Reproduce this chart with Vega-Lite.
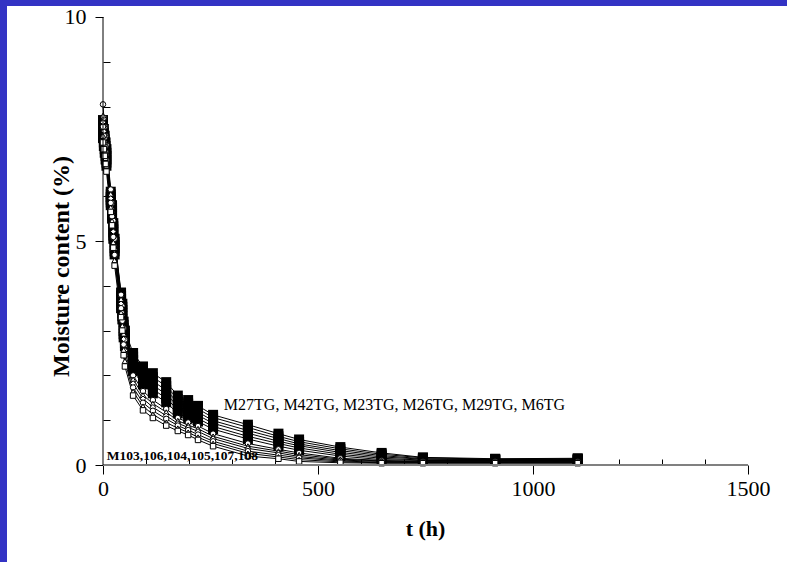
{
"$schema":"https://vega.github.io/schema/vega-lite/v6.json",
"width":780,"height":556,
"autosize":{"type":"none"},
"padding":{"left":7,"top":6,"right":0,"bottom":0},
"background":"#3333c4",
"config":{"font":"Liberation Serif","view":{"fill":"white","stroke":null}},
"resolve":{"axis":{"x":"independent","y":"independent"}},
"layer":[
{"data":{"name":"moisture","values":[
{"s":"M27TG","t":0,"m":7.70},{"s":"M27TG","t":2,"m":7.50},{"s":"M27TG","t":4,"m":7.35},{"s":"M27TG","t":6,"m":7.20},{"s":"M27TG","t":8,"m":7.05},{"s":"M27TG","t":18,"m":6.10},{"s":"M27TG","t":21,"m":5.80},{"s":"M27TG","t":24,"m":5.40},{"s":"M27TG","t":27,"m":5.05},{"s":"M27TG","t":42,"m":3.85},{"s":"M27TG","t":45,"m":3.60},{"s":"M27TG","t":48,"m":3.20},{"s":"M27TG","t":51,"m":3.00},{"s":"M27TG","t":70,"m":2.50},{"s":"M27TG","t":93,"m":2.20},{"s":"M27TG","t":116,"m":2.05},{"s":"M27TG","t":147,"m":1.85},{"s":"M27TG","t":174,"m":1.55},{"s":"M27TG","t":198,"m":1.45},{"s":"M27TG","t":221,"m":1.32},{"s":"M27TG","t":256,"m":1.12},{"s":"M27TG","t":337,"m":0.90},{"s":"M27TG","t":408,"m":0.70},{"s":"M27TG","t":456,"m":0.57},{"s":"M27TG","t":552,"m":0.40},{"s":"M27TG","t":648,"m":0.27},{"s":"M27TG","t":744,"m":0.17},{"s":"M27TG","t":912,"m":0.14},{"s":"M27TG","t":1104,"m":0.15},
{"s":"M42TG","t":0,"m":7.60},{"s":"M42TG","t":2,"m":7.42},{"s":"M42TG","t":4,"m":7.27},{"s":"M42TG","t":6,"m":7.12},{"s":"M42TG","t":8,"m":6.97},{"s":"M42TG","t":18,"m":6.04},{"s":"M42TG","t":21,"m":5.74},{"s":"M42TG","t":24,"m":5.33},{"s":"M42TG","t":27,"m":4.98},{"s":"M42TG","t":42,"m":3.78},{"s":"M42TG","t":45,"m":3.53},{"s":"M42TG","t":48,"m":3.13},{"s":"M42TG","t":51,"m":2.93},{"s":"M42TG","t":70,"m":2.42},{"s":"M42TG","t":93,"m":2.12},{"s":"M42TG","t":116,"m":1.96},{"s":"M42TG","t":147,"m":1.76},{"s":"M42TG","t":174,"m":1.47},{"s":"M42TG","t":198,"m":1.37},{"s":"M42TG","t":221,"m":1.25},{"s":"M42TG","t":256,"m":1.06},{"s":"M42TG","t":337,"m":0.84},{"s":"M42TG","t":408,"m":0.64},{"s":"M42TG","t":456,"m":0.52},{"s":"M42TG","t":552,"m":0.36},{"s":"M42TG","t":648,"m":0.24},{"s":"M42TG","t":744,"m":0.16},{"s":"M42TG","t":912,"m":0.13},{"s":"M42TG","t":1104,"m":0.14},
{"s":"M23TG","t":0,"m":7.50},{"s":"M23TG","t":2,"m":7.35},{"s":"M23TG","t":4,"m":7.20},{"s":"M23TG","t":6,"m":7.05},{"s":"M23TG","t":8,"m":6.90},{"s":"M23TG","t":18,"m":5.98},{"s":"M23TG","t":21,"m":5.68},{"s":"M23TG","t":24,"m":5.26},{"s":"M23TG","t":27,"m":4.91},{"s":"M23TG","t":42,"m":3.71},{"s":"M23TG","t":45,"m":3.46},{"s":"M23TG","t":48,"m":3.06},{"s":"M23TG","t":51,"m":2.86},{"s":"M23TG","t":70,"m":2.34},{"s":"M23TG","t":93,"m":2.04},{"s":"M23TG","t":116,"m":1.87},{"s":"M23TG","t":147,"m":1.67},{"s":"M23TG","t":174,"m":1.39},{"s":"M23TG","t":198,"m":1.29},{"s":"M23TG","t":221,"m":1.18},{"s":"M23TG","t":256,"m":0.99},{"s":"M23TG","t":337,"m":0.77},{"s":"M23TG","t":408,"m":0.59},{"s":"M23TG","t":456,"m":0.47},{"s":"M23TG","t":552,"m":0.32},{"s":"M23TG","t":648,"m":0.21},{"s":"M23TG","t":744,"m":0.14},{"s":"M23TG","t":912,"m":0.12},{"s":"M23TG","t":1104,"m":0.13},
{"s":"M26TG","t":0,"m":7.45},{"s":"M26TG","t":2,"m":7.28},{"s":"M26TG","t":4,"m":7.12},{"s":"M26TG","t":6,"m":6.97},{"s":"M26TG","t":8,"m":6.82},{"s":"M26TG","t":18,"m":5.92},{"s":"M26TG","t":21,"m":5.62},{"s":"M26TG","t":24,"m":5.19},{"s":"M26TG","t":27,"m":4.84},{"s":"M26TG","t":42,"m":3.64},{"s":"M26TG","t":45,"m":3.39},{"s":"M26TG","t":48,"m":2.99},{"s":"M26TG","t":51,"m":2.79},{"s":"M26TG","t":70,"m":2.26},{"s":"M26TG","t":93,"m":1.96},{"s":"M26TG","t":116,"m":1.78},{"s":"M26TG","t":147,"m":1.58},{"s":"M26TG","t":174,"m":1.31},{"s":"M26TG","t":198,"m":1.21},{"s":"M26TG","t":221,"m":1.11},{"s":"M26TG","t":256,"m":0.93},{"s":"M26TG","t":337,"m":0.71},{"s":"M26TG","t":408,"m":0.53},{"s":"M26TG","t":456,"m":0.43},{"s":"M26TG","t":552,"m":0.28},{"s":"M26TG","t":648,"m":0.18},{"s":"M26TG","t":744,"m":0.13},{"s":"M26TG","t":912,"m":0.12},{"s":"M26TG","t":1104,"m":0.12},
{"s":"M29TG","t":0,"m":7.40},{"s":"M29TG","t":2,"m":7.20},{"s":"M29TG","t":4,"m":7.05},{"s":"M29TG","t":6,"m":6.90},{"s":"M29TG","t":8,"m":6.75},{"s":"M29TG","t":18,"m":5.86},{"s":"M29TG","t":21,"m":5.56},{"s":"M29TG","t":24,"m":5.12},{"s":"M29TG","t":27,"m":4.77},{"s":"M29TG","t":42,"m":3.57},{"s":"M29TG","t":45,"m":3.32},{"s":"M29TG","t":48,"m":2.92},{"s":"M29TG","t":51,"m":2.72},{"s":"M29TG","t":70,"m":2.18},{"s":"M29TG","t":93,"m":1.88},{"s":"M29TG","t":116,"m":1.69},{"s":"M29TG","t":147,"m":1.49},{"s":"M29TG","t":174,"m":1.23},{"s":"M29TG","t":198,"m":1.13},{"s":"M29TG","t":221,"m":1.04},{"s":"M29TG","t":256,"m":0.86},{"s":"M29TG","t":337,"m":0.64},{"s":"M29TG","t":408,"m":0.48},{"s":"M29TG","t":456,"m":0.38},{"s":"M29TG","t":552,"m":0.24},{"s":"M29TG","t":648,"m":0.15},{"s":"M29TG","t":744,"m":0.11},{"s":"M29TG","t":912,"m":0.11},{"s":"M29TG","t":1104,"m":0.11},
{"s":"M6TG","t":0,"m":7.30},{"s":"M6TG","t":2,"m":7.12},{"s":"M6TG","t":4,"m":6.97},{"s":"M6TG","t":6,"m":6.82},{"s":"M6TG","t":8,"m":6.68},{"s":"M6TG","t":18,"m":5.80},{"s":"M6TG","t":21,"m":5.50},{"s":"M6TG","t":24,"m":5.05},{"s":"M6TG","t":27,"m":4.70},{"s":"M6TG","t":42,"m":3.50},{"s":"M6TG","t":45,"m":3.25},{"s":"M6TG","t":48,"m":2.85},{"s":"M6TG","t":51,"m":2.65},{"s":"M6TG","t":70,"m":2.10},{"s":"M6TG","t":93,"m":1.80},{"s":"M6TG","t":116,"m":1.60},{"s":"M6TG","t":147,"m":1.40},{"s":"M6TG","t":174,"m":1.15},{"s":"M6TG","t":198,"m":1.05},{"s":"M6TG","t":221,"m":0.97},{"s":"M6TG","t":256,"m":0.80},{"s":"M6TG","t":337,"m":0.58},{"s":"M6TG","t":408,"m":0.42},{"s":"M6TG","t":456,"m":0.33},{"s":"M6TG","t":552,"m":0.20},{"s":"M6TG","t":648,"m":0.12},{"s":"M6TG","t":744,"m":0.10},{"s":"M6TG","t":912,"m":0.10},{"s":"M6TG","t":1104,"m":0.10},
{"s":"M103","t":0,"m":8.05},{"s":"M103","t":2,"m":7.75},{"s":"M103","t":4,"m":7.55},{"s":"M103","t":6,"m":7.35},{"s":"M103","t":8,"m":7.15},{"s":"M103","t":18,"m":6.15},{"s":"M103","t":21,"m":5.85},{"s":"M103","t":24,"m":5.45},{"s":"M103","t":27,"m":5.05},{"s":"M103","t":42,"m":3.80},{"s":"M103","t":45,"m":3.55},{"s":"M103","t":48,"m":3.05},{"s":"M103","t":51,"m":2.80},{"s":"M103","t":70,"m":2.00},{"s":"M103","t":93,"m":1.65},{"s":"M103","t":116,"m":1.45},{"s":"M103","t":147,"m":1.25},{"s":"M103","t":174,"m":1.05},{"s":"M103","t":198,"m":0.95},{"s":"M103","t":221,"m":0.87},{"s":"M103","t":256,"m":0.70},{"s":"M103","t":337,"m":0.48},{"s":"M103","t":408,"m":0.35},{"s":"M103","t":456,"m":0.27},{"s":"M103","t":552,"m":0.15},{"s":"M103","t":648,"m":0.10},{"s":"M103","t":744,"m":0.08},{"s":"M103","t":912,"m":0.08},{"s":"M103","t":1104,"m":0.08},
{"s":"M106","t":0,"m":7.80},{"s":"M106","t":2,"m":7.60},{"s":"M106","t":4,"m":7.40},{"s":"M106","t":6,"m":7.22},{"s":"M106","t":8,"m":7.03},{"s":"M106","t":18,"m":6.05},{"s":"M106","t":21,"m":5.75},{"s":"M106","t":24,"m":5.33},{"s":"M106","t":27,"m":4.93},{"s":"M106","t":42,"m":3.70},{"s":"M106","t":45,"m":3.44},{"s":"M106","t":48,"m":2.93},{"s":"M106","t":51,"m":2.68},{"s":"M106","t":70,"m":1.91},{"s":"M106","t":93,"m":1.56},{"s":"M106","t":116,"m":1.37},{"s":"M106","t":147,"m":1.18},{"s":"M106","t":174,"m":0.99},{"s":"M106","t":198,"m":0.89},{"s":"M106","t":221,"m":0.81},{"s":"M106","t":256,"m":0.64},{"s":"M106","t":337,"m":0.42},{"s":"M106","t":408,"m":0.31},{"s":"M106","t":456,"m":0.23},{"s":"M106","t":552,"m":0.13},{"s":"M106","t":648,"m":0.09},{"s":"M106","t":744,"m":0.07},{"s":"M106","t":912,"m":0.07},{"s":"M106","t":1104,"m":0.07},
{"s":"M104","t":0,"m":7.65},{"s":"M104","t":2,"m":7.45},{"s":"M104","t":4,"m":7.28},{"s":"M104","t":6,"m":7.10},{"s":"M104","t":8,"m":6.92},{"s":"M104","t":18,"m":5.95},{"s":"M104","t":21,"m":5.65},{"s":"M104","t":24,"m":5.21},{"s":"M104","t":27,"m":4.81},{"s":"M104","t":42,"m":3.60},{"s":"M104","t":45,"m":3.33},{"s":"M104","t":48,"m":2.81},{"s":"M104","t":51,"m":2.56},{"s":"M104","t":70,"m":1.82},{"s":"M104","t":93,"m":1.48},{"s":"M104","t":116,"m":1.29},{"s":"M104","t":147,"m":1.10},{"s":"M104","t":174,"m":0.93},{"s":"M104","t":198,"m":0.84},{"s":"M104","t":221,"m":0.75},{"s":"M104","t":256,"m":0.59},{"s":"M104","t":337,"m":0.37},{"s":"M104","t":408,"m":0.27},{"s":"M104","t":456,"m":0.19},{"s":"M104","t":552,"m":0.11},{"s":"M104","t":648,"m":0.08},{"s":"M104","t":744,"m":0.06},{"s":"M104","t":912,"m":0.06},{"s":"M104","t":1104,"m":0.07},
{"s":"M105","t":0,"m":7.55},{"s":"M105","t":2,"m":7.35},{"s":"M105","t":4,"m":7.15},{"s":"M105","t":6,"m":6.98},{"s":"M105","t":8,"m":6.80},{"s":"M105","t":18,"m":5.85},{"s":"M105","t":21,"m":5.55},{"s":"M105","t":24,"m":5.09},{"s":"M105","t":27,"m":4.69},{"s":"M105","t":42,"m":3.50},{"s":"M105","t":45,"m":3.22},{"s":"M105","t":48,"m":2.69},{"s":"M105","t":51,"m":2.44},{"s":"M105","t":70,"m":1.73},{"s":"M105","t":93,"m":1.39},{"s":"M105","t":116,"m":1.21},{"s":"M105","t":147,"m":1.03},{"s":"M105","t":174,"m":0.88},{"s":"M105","t":198,"m":0.78},{"s":"M105","t":221,"m":0.68},{"s":"M105","t":256,"m":0.53},{"s":"M105","t":337,"m":0.31},{"s":"M105","t":408,"m":0.22},{"s":"M105","t":456,"m":0.16},{"s":"M105","t":552,"m":0.09},{"s":"M105","t":648,"m":0.06},{"s":"M105","t":744,"m":0.06},{"s":"M105","t":912,"m":0.06},{"s":"M105","t":1104,"m":0.06},
{"s":"M107","t":0,"m":7.35},{"s":"M107","t":2,"m":7.20},{"s":"M107","t":4,"m":7.02},{"s":"M107","t":6,"m":6.85},{"s":"M107","t":8,"m":6.68},{"s":"M107","t":18,"m":5.75},{"s":"M107","t":21,"m":5.45},{"s":"M107","t":24,"m":4.97},{"s":"M107","t":27,"m":4.57},{"s":"M107","t":42,"m":3.40},{"s":"M107","t":45,"m":3.11},{"s":"M107","t":48,"m":2.57},{"s":"M107","t":51,"m":2.32},{"s":"M107","t":70,"m":1.64},{"s":"M107","t":93,"m":1.31},{"s":"M107","t":116,"m":1.13},{"s":"M107","t":147,"m":0.95},{"s":"M107","t":174,"m":0.82},{"s":"M107","t":198,"m":0.73},{"s":"M107","t":221,"m":0.62},{"s":"M107","t":256,"m":0.48},{"s":"M107","t":337,"m":0.26},{"s":"M107","t":408,"m":0.18},{"s":"M107","t":456,"m":0.12},{"s":"M107","t":552,"m":0.07},{"s":"M107","t":648,"m":0.05},{"s":"M107","t":744,"m":0.05},{"s":"M107","t":912,"m":0.05},{"s":"M107","t":1104,"m":0.05},
{"s":"M108","t":0,"m":7.20},{"s":"M108","t":2,"m":7.05},{"s":"M108","t":4,"m":6.90},{"s":"M108","t":6,"m":6.72},{"s":"M108","t":8,"m":6.55},{"s":"M108","t":18,"m":5.65},{"s":"M108","t":21,"m":5.35},{"s":"M108","t":24,"m":4.85},{"s":"M108","t":27,"m":4.45},{"s":"M108","t":42,"m":3.30},{"s":"M108","t":45,"m":3.00},{"s":"M108","t":48,"m":2.45},{"s":"M108","t":51,"m":2.20},{"s":"M108","t":70,"m":1.55},{"s":"M108","t":93,"m":1.22},{"s":"M108","t":116,"m":1.05},{"s":"M108","t":147,"m":0.88},{"s":"M108","t":174,"m":0.76},{"s":"M108","t":198,"m":0.67},{"s":"M108","t":221,"m":0.56},{"s":"M108","t":256,"m":0.42},{"s":"M108","t":337,"m":0.20},{"s":"M108","t":408,"m":0.14},{"s":"M108","t":456,"m":0.08},{"s":"M108","t":552,"m":0.05},{"s":"M108","t":648,"m":0.04},{"s":"M108","t":744,"m":0.04},{"s":"M108","t":912,"m":0.04},{"s":"M108","t":1104,"m":0.04}
]},
 "mark":{"type":"line","color":"black","strokeWidth":1},
 "encoding":{
  "x":{"field":"t","type":"quantitative","scale":{"domain":[-223.26,1590.7],"nice":false,"zero":false},
   "axis":{"orient":"bottom","offset":-97,"values":[0,500,1000,1500],"format":"d","domain":false,"grid":false,
    "tickSize":9,"tickColor":"black","tickWidth":1,"labelPadding":4,"labelFlush":false,"labelOverlap":false,
    "labelFontSize":22,"labelColor":"black",
    "title":"t (h)","titleFontSize":22,"titleFontWeight":"bold","titleColor":"black",
    "titleX":418,"titleY":70,"titleBaseline":"alphabetic","titleAlign":"center"}},
  "y":{"field":"m","type":"quantitative","scale":{"domain":[-2.165,10.2455],"nice":false,"zero":false},
   "axis":{"orient":"left","offset":-96,"values":[0,5,10],"format":"d","domain":false,"grid":false,
    "tickSize":8,"tickColor":"black","tickWidth":1,"labelPadding":9,"labelFlush":false,"labelOverlap":false,
    "labelFontSize":22,"labelColor":"black",
    "title":"Moisture content (%)","titleFontSize":24,"titleFontWeight":"bold","titleColor":"black",
    "titleAngle":-90,"titleX":-42,"titleY":260,"titleBaseline":"middle","titleAlign":"center"}},
  "detail":{"field":"s"}
 }},
{"data":{"name":"moisture"},
 "transform":[{"filter":"indexof(datum.s, 'TG') >= 0"}],
 "mark":{"type":"point","shape":"square","size":100,"filled":true,"color":"black","opacity":1},
 "encoding":{
  "x":{"field":"t","type":"quantitative",
   "axis":{"orient":"bottom","offset":-103,"values":[100,200,300,400,600,700,800,900,1100,1200,1300,1400],"domain":false,"grid":false,"labels":false,"title":null,"tickSize":6,"tickColor":"black","tickWidth":1}},
  "y":{"field":"m","type":"quantitative",
   "axis":{"orient":"left","offset":-103,"values":[1,2,3,4,6,7,8,9],"domain":false,"grid":false,"labels":false,"title":null,"tickSize":7,"tickColor":"black","tickWidth":1}}}},
{"data":{"name":"moisture"},
 "transform":[{"filter":"indexof(datum.s, 'TG') < 0"}],
 "mark":{"type":"point","size":30,"filled":true,"fill":"white","stroke":"black","strokeWidth":1,"opacity":1},
 "encoding":{"x":{"field":"t","type":"quantitative","axis":null},"y":{"field":"m","type":"quantitative","axis":null},
  "shape":{"field":"s","type":"nominal","legend":null,
   "scale":{"domain":["M103","M106","M104","M105","M107","M108"],"range":["circle","triangle-up","diamond","circle","triangle-up","square"]}}}},
{"data":{"values":[{}]},
 "mark":{"type":"text","align":"left","baseline":"alphabetic","fontSize":16,"color":"black","text":"M27TG, M42TG, M23TG, M26TG, M29TG, M6TG"},
 "encoding":{"x":{"datum":281,"type":"quantitative","axis":null},"y":{"datum":1.23,"type":"quantitative","axis":null}}},
{"data":{"values":[{}]},
 "mark":{"type":"text","align":"left","baseline":"alphabetic","fontSize":13.5,"fontWeight":"bold","color":"black","text":"M103,106,104,105,107,108"},
 "encoding":{"x":{"datum":9,"type":"quantitative","axis":null},"y":{"datum":0.12,"type":"quantitative","axis":null}}},
{"data":{"values":[{}]},
 "mark":{"type":"rule","color":"#808080","strokeWidth":2},
 "encoding":{"x":{"datum":0,"type":"quantitative","axis":null},"x2":{"datum":1500},"y":{"datum":0,"type":"quantitative","axis":null}}},
{"data":{"values":[{}]},
 "mark":{"type":"rule","color":"black","strokeWidth":1},
 "encoding":{"x":{"datum":0,"type":"quantitative","axis":null},"y":{"datum":0,"type":"quantitative","axis":null},"y2":{"datum":10}}}
]
}
